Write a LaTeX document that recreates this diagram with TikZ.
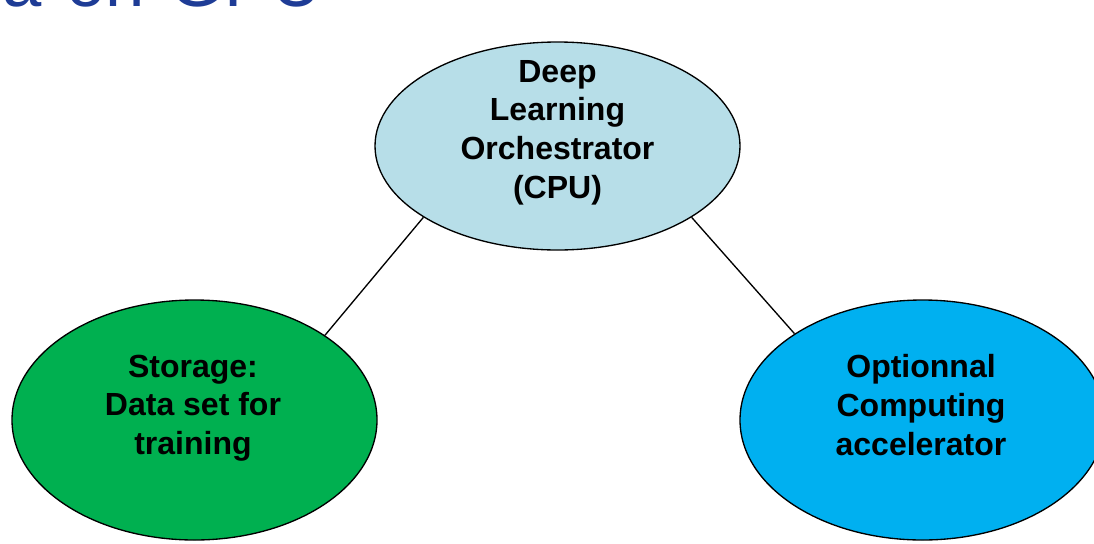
\documentclass[tikz,border=0pt]{standalone}
\usepackage{fontspec}
\setmainfont{Liberation Sans}
\usetikzlibrary{shapes.geometric}
\definecolor{orchfill}{HTML}{B7DEE8}
\definecolor{storefill}{HTML}{00B050}
\definecolor{accelfill}{HTML}{00B0F0}
\definecolor{titleblue}{RGB}{30,60,150}
\tikzset{
  blob/.style={ellipse, draw=black, line width=1pt, inner sep=0pt,
    minimum width=273.75pt, minimum height=#1},
  caption/.style={font=\bfseries\fontsize{24}{29}\selectfont, align=center,
    inner sep=0pt, anchor=north},
  link/.style={draw=black, line width=1pt},
}
\begin{document}
\begin{tikzpicture}[x=0.75pt, y=-0.75pt]
  \useasboundingbox (0,0) rectangle (1094,543);
  \clip (0,0) rectangle (1094,543);
  \fill[white] (0,0) rectangle (1094,543);

  % slide heading, only its lower edge falls inside the frame
  \node[anchor=base west, inner sep=0pt, text=titleblue,
        font=\fontsize{53}{63}\selectfont] (title) at (2,6)
        {\spaceskip=0.35em a on GPU};

  % the three parts of the system
  \node[blob=156pt, fill=orchfill]  (orch)  at (557.5,146) {};
  \node[blob=180pt, fill=storefill] (store) at (194.5,420) {};
  \node[blob=180pt, fill=accelfill] (accel) at (922.5,420) {};

  \node[caption] (orchtxt)  at (557.5,60)  {Deep\\Learning\\Orchestrator\\(CPU)};
  \node[caption] (storetxt) at (193,354.5) {Storage:\\Data set for\\training};
  \node[caption] (acceltxt) at (921,354.5) {Optionnal\\Computing\\accelerator};

  % links between the orchestrator and the other parts
  \draw[link] (orch.208.7) -- (store.33.7);
  \draw[link] (orch.-28.5) -- (accel.146.9);
\end{tikzpicture}
\end{document}
